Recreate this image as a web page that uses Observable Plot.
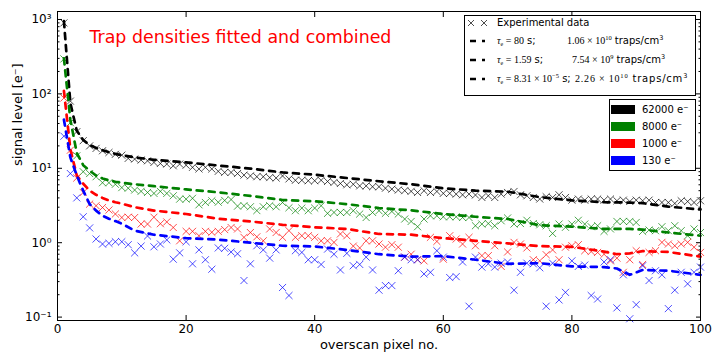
<!DOCTYPE html>
<html><head><meta charset="utf-8">
<script src="https://cdn.jsdelivr.net/npm/d3@7"></script>
<script src="https://cdn.jsdelivr.net/npm/@observablehq/plot@0.6"></script>
<style>
body{margin:0;background:#fff;}
#wrap{position:relative;width:720px;height:360px;font-family:"DejaVu Sans",sans-serif;}
.leg{position:absolute;border:1px solid #000;background:#fff;box-sizing:border-box;}
.it{position:absolute;white-space:nowrap;font-size:10px;line-height:10px;color:#000;}
.m{font-family:"Liberation Serif",serif;font-size:10px;}
.sb{font-size:6px;position:relative;top:2px;}
.sp{font-size:6.5px;position:relative;top:-4px;}
svg.h{position:absolute;overflow:visible;}
</style></head><body><div id="wrap"></div>
<script>
const pixelNo = d3.range(1, 101);

const exp62000 = [
 900, 80, 31, 23.5, 20, 18.5, 17.2, 16.3, 15.4, 15.0,
 13.6, 13.3, 12.9, 12.6, 12.0, 11.6, 11.4, 10.8, 11.4, 11.0,
 10.3, 9.8, 10.3, 9.8, 9.1, 8.8, 8.8, 8.5, 8.1, 7.9,
 7.7, 7.7, 7.5, 7.4, 7.9, 7.2, 6.9, 6.9, 6.8, 6.8,
 6.9, 6.65, 6.45, 6.25, 6.0, 6.1, 5.8, 5.8, 5.65, 5.65,
 5.4, 5.25, 5.1, 5.0, 4.9, 4.73, 4.99, 4.73, 4.88, 4.6,
 4.6, 4.5, 4.4, 4.5, 4.37, 4.05, 4.27, 4.05, 4.5, 4.73,
 4.88, 4.4, 4.27, 4.05, 3.86, 4.15, 4.05, 4.4, 4.05, 3.73,
 3.86, 3.73, 3.86, 3.86, 3.73, 3.86, 3.66, 3.73, 3.58, 3.73,
 3.66, 3.73, 3.47, 3.47, 3.47, 3.37, 3.66, 3.58, 3.47, 3.66];
const exp8000 = [
 295, 41, 14.7, 9.0, 8.5, 7.7, 6.4, 6.4, 6.1, 5.5,
 5.4, 5.1, 4.9, 4.73, 4.6, 4.9, 4.6, 4.27, 3.85, 3.85,
 3.95, 3.23, 3.47, 3.66, 3.5, 3.7, 3.8, 3.1, 3.14, 3.04,
 2.7, 3.04, 3.14, 3.04, 3.47, 2.95, 2.69, 2.92, 2.69, 2.92,
 3.14, 2.48, 2.55, 2.55, 2.55, 2.69, 2.43, 2.18, 2.55, 2.69,
 2.48, 2.63, 2.43, 2.08, 1.93, 1.64, 2.08, 2.3, 2.3, 2.23,
 2.23, 2.23, 2.18, 2.18, 1.69, 1.78, 1.81, 1.69, 1.97, 2.15,
 1.78, 1.81, 2.0, 1.81, 1.74, 1.69, 1.33, 1.78, 1.61, 1.78,
 2.0, 1.78, 1.64, 1.69, 1.42, 1.53, 1.93, 1.93, 1.93, 1.87,
 1.42, 1.48, 1.45, 1.64, 1.45, 1.69, 1.45, 1.24, 1.53, 1.37];
const exp1000 = [
 88, 17.5, 7.4, 4.73, 3.3, 3.14, 2.97, 2.75, 2.43, 2.18,
 2.2, 2.18, 1.78, 1.78, 2.2, 1.8, 1.9, 1.6, 1.06, 1.42,
 1.42, 1.24, 1.42, 1.38, 1.42, 1.5, 1.6, 1.53, 1.18, 1.37,
 1.2, 1.06, 1.53, 1.37, 1.18, 1.45, 1.18, 1.24, 1.24, 1.18,
 1.06, 1.06, 1.01, 1.31, 1.24, 0.9, 0.85, 1.06, 1.06, 0.96,
 0.87, 0.94, 0.87, 0.64, 0.70, 0.59, 0.57, 1.18, 1.04, 0.60,
 1.24, 1.12, 0.96, 1.18, 0.91, 0.67, 0.67, 0.91, 0.48, 0.75,
 1.01, 0.96, 0.85, 0.59, 0.57, 0.69, 0.80, 0.59, 0.87, 0.91,
 0.94, 0.78, 0.76, 0.74, 0.70, 0.57, 0.62, 0.40, 0.59, 0.78,
 0.51, 0.74, 0.78, 1.01, 0.96, 0.91, 0.96, 1.01, 0.87, 0.74];
const exp130 = [
 27, 8.5, 4.0, 2.23, 1.58, 1.12, 0.96, 0.98, 1.03, 1.03,
 0.94, 0.73, 0.9, 1.23, 0.88, 0.96, 1.09, 0.6, 0.73, 1.03,
 0.52, 0.8, 0.59, 0.44, 0.85, 0.84, 0.75, 0.71, 0.31, 0.52,
 0.91, 0.8, 0.62, 0.8, 0.25, 0.195, 0.78, 0.74, 0.59, 0.59,
 0.51, 0.82, 0.7, 0.43, 0.72, 0.49, 0.51, 0.64, 0.43, 0.23,
 0.265, 0.265, 0.42, 0.64, 0.59, 0.59, 0.38, 0.40, 0.78, 0.64,
 0.34, 0.35, 0.55, 0.14, 0.64, 0.47, 0.52, 0.47, 0.53, 0.55,
 0.23, 0.4, 0.53, 0.52, 0.46, 0.14, 0.53, 0.17, 0.215, 0.57,
 0.48, 0.5, 0.195, 0.175, 0.55, 0.59, 0.133, 0.37, 0.095, 0.147,
 0.49, 0.31, 0.42, 0.37, 0.13, 0.23, 0.4, 0.28, 0.4, 0.47];

const fitX = [1,2,3,4,5,6,7,8,9,10,12,15,20,25,30,35,40,45,50,55,60,65,70,75,80,85,87,89,91,95,100];
const fit62000 = [950,75,32,24,20.5,18.8,17.5,16.5,15.6,15,14,13,12,10.9,9.9,8.8,8.2,7.4,6.7,6.1,5.4,5.0,4.85,4.1,3.7,3.5,3.48,3.46,3.4,3.05,2.8];
const fit8000 = [300,45,16,11,9.3,8.0,7.3,6.9,6.6,6.4,6.1,5.75,5.2,4.75,4.25,3.75,3.6,3.3,2.92,2.72,2.43,2.23,2.08,1.72,1.64,1.53,1.53,1.53,1.5,1.37,1.24];
const fit1000 = [110,18,8,6.2,5.0,4.4,4.0,3.7,3.5,3.35,3.0,2.7,2.43,2.1,1.93,1.74,1.61,1.53,1.31,1.28,1.15,1.06,0.98,0.9,0.88,0.76,0.7,0.72,0.77,0.75,0.65];
const fit130 = [45,14,8,5,3.3,2.7,2.3,2.1,1.95,1.8,1.45,1.28,1.15,1.1,1.0,0.91,0.89,0.8,0.7,0.65,0.66,0.59,0.52,0.53,0.48,0.47,0.45,0.37,0.43,0.42,0.37];

const seriesNames = ["62000 e\u207B", "8000 e\u207B", "1000 e\u207B", "130 e\u207B"];
const seriesColors = ["#000000", "#008000", "#ff0000", "#0000ff"];
const expSeries = [exp62000, exp8000, exp1000, exp130];
const fitSeries = [fit62000, fit8000, fit1000, fit130];

const fitTau = ["80", "1.59", "8.31 \u00D7 10"];
const fitTauExp = ["", "", "\u22125"];
const fitDensity = ["1.06 \u00D7 10", "7.54 \u00D7 10", "2.26 \u00D7 10"];
const fitDensityExp = ["10", "9", "10"];

const xTicks = [0, 20, 40, 60, 80, 100];
const yTicks = [0.1, 1, 10, 100, 1000];
const yTickLabels = ["10\u207B\u00B9", "10\u2070", "10\u00B9", "10\u00B2", "10\u00B3"];
const yMinorTicks = [0.2,0.3,0.4,0.5,0.6,0.7,0.8,0.9,2,3,4,5,6,7,8,9,20,30,40,50,60,70,80,90,200,300,400,500,600,700,800,900];

const titleText = "Trap densities fitted and combined";
const xLabel = "overscan pixel no.";
const yLabel = "signal level [e\u207B]";
const expLabel = "Experimental data";

const marks = [];
expSeries.forEach((vals, i) => {
  marks.push(Plot.dot(pixelNo, {x: d => d, y: (d, j) => vals[j], symbol: "times", r: 3.3,
    stroke: seriesColors[i], strokeWidth: 0.7}));
});
fitSeries.forEach((vals, i) => {
  marks.push(Plot.line(fitX, {x: d => d, y: (d, j) => vals[j], stroke: seriesColors[i],
    strokeWidth: 2.7, strokeDasharray: "6,6"}));
});

const chart = Plot.plot({
  width: 720, height: 360,
  marginLeft: 57, marginRight: 20, marginTop: 11, marginBottom: 40,
  style: {fontFamily: "DejaVu Sans", fontSize: "12px", background: "#fff", color: "#000"},
  x: {domain: [0, 100]},
  y: {type: "log", domain: [0.09, 1280]},
  marks: [
    ...marks,
    Plot.frame({stroke: "#000", strokeWidth: 1}),
    Plot.axisX(xTicks, {anchor: "bottom", tickSize: 0, tickPadding: 4, label: null, fontSize: 12}),
    Plot.axisX(xTicks, {anchor: "bottom", tickSize: -5, fill: "none", label: null}),
    Plot.axisX(xTicks, {anchor: "top", tickSize: -5, fill: "none", label: null}),
    Plot.axisY(yTicks, {anchor: "left", tickSize: 0, tickPadding: 6, label: null, fontSize: 12,
      tickFormat: d => yTickLabels[yTicks.indexOf(d)]}),
    Plot.axisY(yTicks, {anchor: "left", tickSize: -5, fill: "none", label: null}),
    Plot.axisY(yTicks, {anchor: "right", tickSize: -5, fill: "none", label: null}),
    Plot.axisY(yMinorTicks, {anchor: "left", tickSize: -2.5, fill: "none", label: null}),
    Plot.axisY(yMinorTicks, {anchor: "right", tickSize: -2.5, fill: "none", label: null}),
    Plot.text([titleText], {frameAnchor: "top-left", dx: 32, dy: 25.6, fill: "red", fontSize: 17.4,
      textAnchor: "start", lineAnchor: "middle"}),
    Plot.text([xLabel], {frameAnchor: "bottom", dy: 24.8, fontSize: 13, lineAnchor: "middle"}),
    Plot.text([yLabel], {frameAnchor: "left", dx: -40, rotate: -90, fontSize: 13, lineAnchor: "middle"})
  ]
});
const wrap = document.getElementById("wrap");
wrap.appendChild(chart);

// Legend 1: experimental data + fits
const leg1 = document.createElement("div");
leg1.className = "leg";
Object.assign(leg1.style, {left: "464px", top: "15px", width: "232px", height: "81px"});
wrap.appendChild(leg1);
const rowY = [23, 40.5, 59.5, 78.5];
const ns = "http://www.w3.org/2000/svg";
function addSvg(html, x, y, w, h) {
  const s = document.createElementNS(ns, "svg");
  s.setAttribute("class", "h");
  s.setAttribute("width", w); s.setAttribute("height", h);
  s.style.left = x + "px"; s.style.top = y + "px";
  s.innerHTML = html;
  wrap.appendChild(s);
}
addSvg(`<path d="M1,1L7,7M1,7L7,1M14,1L20,7M14,7L20,1" stroke="#000" stroke-width="0.7" fill="none"/>`, 467, rowY[0] - 4, 22, 8);
for (let k = 0; k < 3; k++) {
  addSvg(`<line x1="0" y1="2" x2="15" y2="2" stroke="#000" stroke-width="2.7" stroke-dasharray="6,6"/>`, 470, rowY[k + 1] - 2, 16, 4);
}
function addText(html, x, y, spacing) {
  const d = document.createElement("div");
  d.className = "it";
  d.style.left = x + "px"; d.style.top = (y - 5) + "px";
  if (spacing) d.style.letterSpacing = spacing + "px";
  d.innerHTML = html;
  wrap.appendChild(d);
}
addText(expLabel, 497, rowY[0]);
const densX = [567, 572, 575];
const densSpacing = [0, 0, 0.8];
for (let k = 0; k < 3; k++) {
  const tauHtml = `<span class="m"><i>\u03C4</i><span class="sb">e</span> = ${fitTau[k]}${fitTauExp[k] ? `<span class="sp">${fitTauExp[k]}</span>` : ""}</span> s;`;
  addText(tauHtml, 497, rowY[k + 1]);
  const dHtml = `<span class="m">${fitDensity[k]}<span class="sp">${fitDensityExp[k]}</span></span> traps/cm<span class="sp">3</span>`;
  addText(dHtml, densX[k], rowY[k + 1], densSpacing[k]);
}

// Legend 2: signal levels
const leg2 = document.createElement("div");
leg2.className = "leg";
Object.assign(leg2.style, {left: "609px", top: "99px", width: "87px", height: "72px"});
wrap.appendChild(leg2);
const row2Y = [109.5, 126.5, 143.5, 160.5];
seriesNames.forEach((name, i) => {
  const r = document.createElement("div");
  Object.assign(r.style, {position: "absolute", left: "611px", top: (row2Y[i] - 4.5) + "px",
    width: "24px", height: "9px", background: seriesColors[i]});
  wrap.appendChild(r);
  addText(name, 642, row2Y[i]);
});
</script></body></html>
